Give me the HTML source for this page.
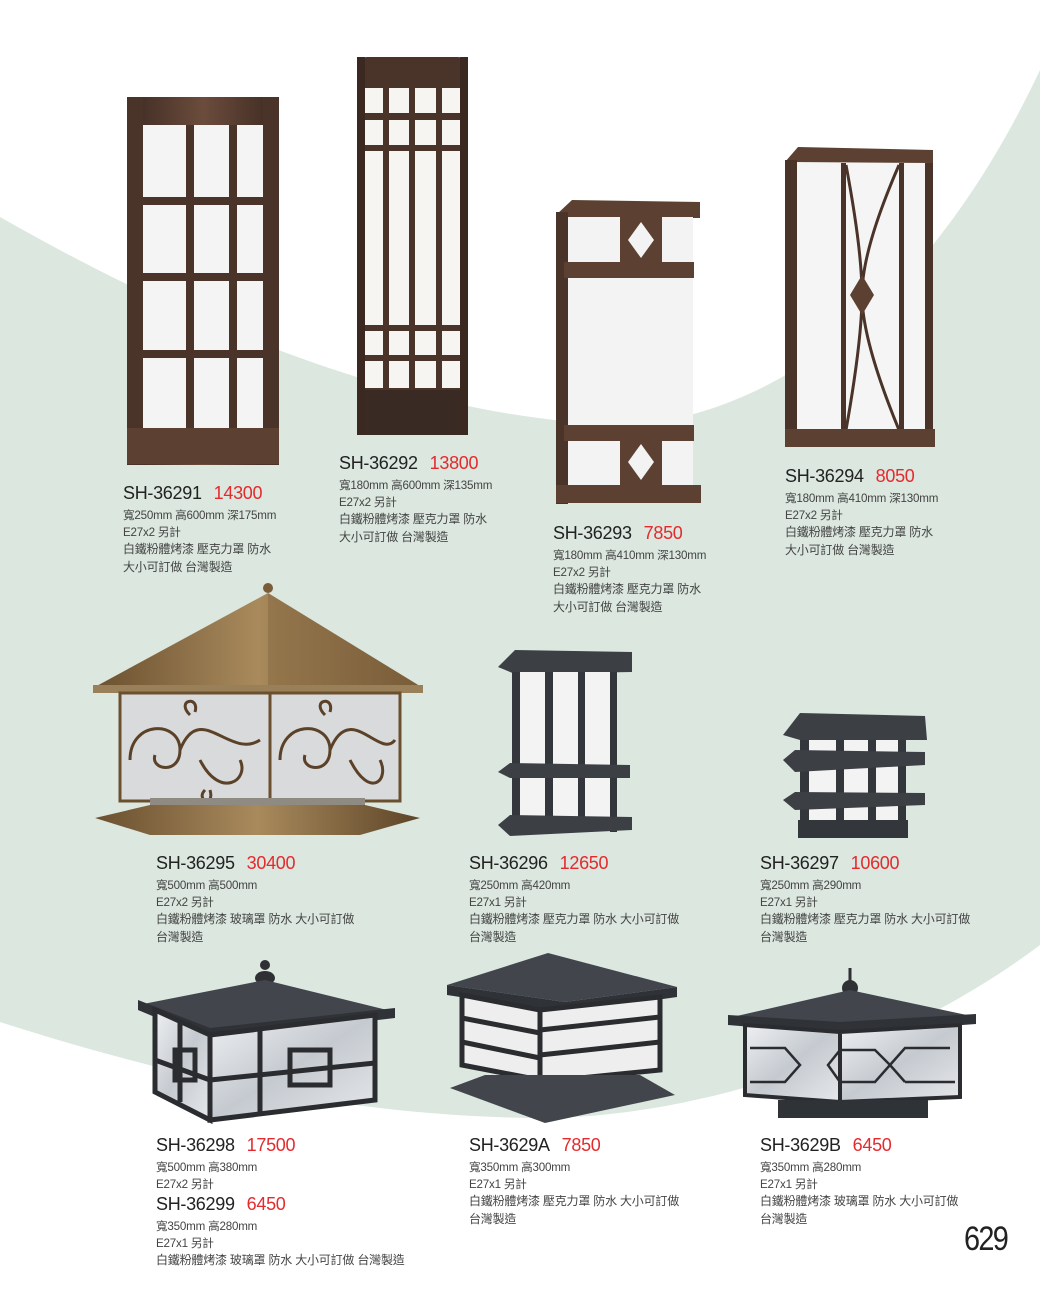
<!DOCTYPE html>
<html><head><meta charset="utf-8">
<style>
html,body{margin:0;padding:0;}
body{width:1040px;height:1300px;position:relative;overflow:hidden;background:#fff;font-family:"Liberation Sans","Noto Sans CJK TC",sans-serif;}
svg.bg{position:absolute;left:0;top:0;}
.t{position:absolute;color:#444;font-size:11.6px;line-height:16.5px;white-space:nowrap;letter-spacing:-0.2px;}
.t b{display:block;font-weight:normal;font-size:18px;line-height:22px;color:#222;letter-spacing:-0.3px;margin-bottom:4px;}
.t b i{font-style:normal;color:#e52a2e;margin-left:12px;}
.t .c{font-size:12px;}
.pg{position:absolute;left:964px;top:1220px;font-size:34px;color:#222;letter-spacing:-2px;transform:scaleX(0.85);transform-origin:left;}
</style></head><body>
<svg class="bg" width="1040" height="1300" viewBox="0 0 1040 1300">
<defs>
<linearGradient id="br" x1="0" x2="1"><stop offset="0" stop-color="#3e2a22"/><stop offset=".5" stop-color="#6b4c3c"/><stop offset="1" stop-color="#3e2a22"/></linearGradient>
<linearGradient id="gold" x1="0" x2="1"><stop offset="0" stop-color="#6b5030"/><stop offset=".5" stop-color="#a88a5c"/><stop offset="1" stop-color="#5e4528"/></linearGradient>
<linearGradient id="gl" x1="0" y1="0" x2="1" y2="1"><stop offset="0" stop-color="#eef0f2"/><stop offset=".5" stop-color="#c5cad0"/><stop offset="1" stop-color="#e6e8ea"/></linearGradient>
</defs>
<rect width="1040" height="1300" fill="#fff"/>
<path d="M0 217 C180 320 420 425 640 425 C830 400 960 240 1040 70 V945 C900 1050 700 1120 530 1118 C330 1115 150 1070 0 1022Z" fill="#dbe7df"/>

<!-- Lamp 1 -->
<rect x="127" y="97" width="152" height="368" rx="6" fill="url(#br)"/>
<rect x="143" y="125" width="122" height="305" fill="#f4f4f4"/>
<rect x="186" y="125" width="8" height="305" fill="#4a3328"/>
<rect x="229" y="125" width="8" height="305" fill="#4a3328"/>
<rect x="140" y="197" width="128" height="8" fill="#4a3328"/>
<rect x="140" y="273" width="128" height="8" fill="#4a3328"/>
<rect x="140" y="350" width="128" height="8" fill="#4a3328"/>
<rect x="127" y="97" width="16" height="368" fill="#4a3328"/>
<rect x="263" y="97" width="16" height="368" fill="#4a3328"/>
<rect x="127" y="428" width="152" height="36" fill="#5c4132"/>
<!-- Lamp 2 -->
<rect x="357" y="57" width="111" height="378" rx="10" fill="#4a3328"/>
<rect x="365" y="88" width="95" height="300" fill="#f6f5f2"/>
<rect x="383" y="88" width="6" height="300" fill="#4a3328"/>
<rect x="409" y="88" width="6" height="300" fill="#4a3328"/>
<rect x="436" y="88" width="6" height="300" fill="#4a3328"/>
<rect x="362" y="113" width="101" height="7" fill="#4a3328"/>
<rect x="362" y="145" width="101" height="6" fill="#4a3328"/>
<rect x="362" y="325" width="101" height="6" fill="#4a3328"/>
<rect x="362" y="355" width="101" height="6" fill="#4a3328"/>
<rect x="357" y="57" width="8" height="378" fill="#3b2820"/>
<rect x="460" y="57" width="8" height="378" fill="#3b2820"/>
<rect x="365" y="390" width="95" height="45" fill="#3a2a24"/>
<!-- Lamp 3 -->
<polygon points="556,215 572,200 700,202 700,218 572,218" fill="#5c4132"/>
<rect x="556" y="212" width="12" height="292" fill="#4a3328"/>
<rect x="568" y="217" width="125" height="270" fill="#f3f3f3"/>
<rect x="620" y="217" width="42" height="50" fill="#5c4132"/>
<polygon points="641,222 654,240 641,258 628,240" fill="#f3f3f3"/>
<rect x="564" y="262" width="130" height="16" fill="#5c4132"/>
<rect x="564" y="425" width="130" height="16" fill="#5c4132"/>
<rect x="620" y="440" width="42" height="46" fill="#5c4132"/>
<polygon points="641,444 654,462 641,480 628,462" fill="#f3f3f3"/>
<rect x="556" y="485" width="145" height="18" fill="#5c4132"/>
<!-- Lamp 4 -->
<polygon points="785,162 798,147 933,150 933,163" fill="#5c4132"/>
<rect x="785" y="160" width="12" height="287" fill="#4a3328"/>
<rect x="797" y="163" width="130" height="268" fill="#f5f5f5"/>
<rect x="841" y="163" width="5" height="268" fill="#4a3328"/>
<rect x="899" y="163" width="5" height="268" fill="#4a3328"/>
<path d="M846 165 Q862 250 862 295 Q862 340 846 430 M899 165 Q862 250 862 295 Q862 340 899 430" stroke="#4a3328" stroke-width="3" fill="none"/>
<polygon points="862,275 874,295 862,315 850,295" fill="#5c4132"/>
<rect x="925" y="163" width="8" height="268" fill="#4a3328"/>
<rect x="785" y="429" width="150" height="18" fill="#5c4132"/>
<!-- Lamp 5 -->
<circle cx="268" cy="588" r="5" fill="#7a5c38"/>
<polygon points="268,593 93,688 423,688" fill="url(#gold)"/>
<polygon points="268,593 268,688 423,688" fill="#8a6c44" opacity=".6"/>
<rect x="93" y="685" width="330" height="8" fill="#9a8058"/>
<rect x="120" y="693" width="280" height="108" fill="#d9dadb" stroke="#6b5030" stroke-width="3"/>
<line x1="270" y1="693" x2="270" y2="801" stroke="#6b5030" stroke-width="3"/>
<g stroke="#5a4128" stroke-width="3" fill="none">
<path d="M130 760 C130 720 180 720 180 750 C180 775 150 770 155 755 M180 750 C200 700 230 760 260 740 M200 760 C220 800 250 780 240 760"/>
<path d="M280 760 C280 720 330 720 330 750 C330 775 300 770 305 755 M330 750 C350 700 380 760 395 740 M350 760 C370 800 390 780 380 760"/>
<path d="M190 715 C175 700 200 695 195 712 M325 715 C310 700 335 695 330 712 M205 790 C195 800 215 808 210 790"/>
</g>
<rect x="150" y="798" width="215" height="14" fill="#8f8a82"/>
<polygon points="95,818 150,805 365,805 420,818 360,835 150,835" fill="url(#gold)"/>
<!-- Lamp 6 -->
<polygon points="498,667 515,650 632,652 632,672 515,674" fill="#3c3f44"/>
<rect x="515" y="672" width="98" height="145" fill="#f3f3f3"/>
<rect x="512" y="672" width="8" height="160" fill="#33363b"/>
<rect x="545" y="672" width="8" height="160" fill="#33363b"/>
<rect x="578" y="672" width="7" height="160" fill="#33363b"/>
<rect x="610" y="672" width="7" height="160" fill="#33363b"/>
<polygon points="498,772 510,763 630,765 630,778 510,778" fill="#3c3f44"/>
<polygon points="498,825 510,815 632,817 632,830 510,836" fill="#3c3f44"/>
<!-- Lamp 7 -->
<polygon points="783,735 800,713 925,716 927,740 800,740" fill="#3c3f44"/>
<rect x="800" y="740" width="103" height="85" fill="#f3f3f3"/>
<rect x="800" y="740" width="9" height="95" fill="#33363b"/>
<rect x="836" y="740" width="8" height="95" fill="#33363b"/>
<rect x="868" y="740" width="8" height="95" fill="#33363b"/>
<rect x="898" y="740" width="8" height="95" fill="#33363b"/>
<polygon points="783,760 795,750 925,752 925,765 795,772" fill="#3c3f44"/>
<polygon points="783,800 795,792 925,793 925,805 795,810" fill="#3c3f44"/>
<rect x="798" y="820" width="110" height="18" fill="#33363b"/>
<!-- Lamp 8 -->
<circle cx="265" cy="965" r="5" fill="#2e3034"/>
<ellipse cx="265" cy="978" rx="10" ry="7" fill="#2e3034"/>
<polygon points="265,980 138,1005 210,1030 395,1012" fill="#42464c"/>
<polygon points="138,1000 210,1028 395,1008 395,1018 210,1040 138,1010" fill="#2f3237"/>
<polygon points="155,1010 210,1035 210,1120 155,1092" fill="url(#gl)" stroke="#2a2c30" stroke-width="5"/>
<polygon points="210,1035 375,1015 375,1100 210,1120" fill="url(#gl)" stroke="#2a2c30" stroke-width="5"/>
<g stroke="#2a2c30" stroke-width="5" fill="none">
<line x1="210" y1="1080" x2="375" y2="1063"/><line x1="155" y1="1060" x2="210" y2="1080"/>
<rect x="290" y="1050" width="40" height="35"/><rect x="175" y="1050" width="20" height="30"/>
<line x1="260" y1="1028" x2="260" y2="1115"/><line x1="180" y1="1020" x2="180" y2="1102"/>
</g>
<!-- Lamp 9 -->
<polygon points="548,953 447,985 565,1002 677,987" fill="#42464c"/>
<polygon points="447,985 565,1002 677,987 677,997 565,1013 447,995" fill="#2f3237"/>
<polygon points="462,995 540,1010 540,1080 462,1065" fill="#eeeeee" stroke="#2a2c30" stroke-width="5"/>
<polygon points="540,1010 660,997 660,1070 540,1082" fill="#eeeeee" stroke="#2a2c30" stroke-width="5"/>
<g stroke="#2a2c30" stroke-width="5"><line x1="462" y1="1018" x2="540" y2="1033"/><line x1="462" y1="1042" x2="540" y2="1058"/><line x1="540" y1="1030" x2="660" y2="1017"/><line x1="540" y1="1055" x2="660" y2="1042"/></g>
<rect x="490" y="1078" width="150" height="22" fill="#2f3237"/>
<polygon points="450,1088 485,1075 640,1075 675,1095 545,1123" fill="#42464c"/>
<!-- Lamp 10 -->
<line x1="850" y1="968" x2="850" y2="985" stroke="#2e3034" stroke-width="3"/>
<ellipse cx="850" cy="988" rx="8" ry="8" fill="#2e3034"/>
<polygon points="850,990 728,1018 840,1025 976,1017" fill="#42464c"/>
<polygon points="728,1015 840,1022 976,1014 976,1024 840,1034 728,1025" fill="#2f3237"/>
<polygon points="745,1025 840,1032 840,1102 745,1095" fill="url(#gl)" stroke="#2a2c30" stroke-width="4"/>
<polygon points="840,1032 960,1025 960,1097 840,1102" fill="url(#gl)" stroke="#2a2c30" stroke-width="4"/>
<g stroke="#2a2c30" stroke-width="2.5" fill="none"><path d="M750 1048 H785 L800 1065 L785 1082 H750 M840 1050 L828 1065 L840 1082 M840 1050 H875 L890 1065 L875 1082 H840 M890 1065 L905 1048 H950 M905 1082 L890 1065 M905 1082 H955"/></g>
<rect x="778" y="1100" width="150" height="18" fill="#2f3237"/>
</svg>

<div class="t" style="left:123px;top:482px"><b>SH-36291<i>14300</i></b>寬250mm 高600mm 深175mm<br>E27x2 另計<br><span class="c">白鐵粉體烤漆 壓克力罩 防水</span><br><span class="c">大小可訂做 台灣製造</span></div>
<div class="t" style="left:339px;top:452px"><b>SH-36292<i>13800</i></b>寬180mm 高600mm 深135mm<br>E27x2 另計<br><span class="c">白鐵粉體烤漆 壓克力罩 防水</span><br><span class="c">大小可訂做 台灣製造</span></div>
<div class="t" style="left:553px;top:522px"><b>SH-36293<i>7850</i></b>寬180mm 高410mm 深130mm<br>E27x2 另計<br><span class="c">白鐵粉體烤漆 壓克力罩 防水</span><br><span class="c">大小可訂做 台灣製造</span></div>
<div class="t" style="left:785px;top:465px"><b>SH-36294<i>8050</i></b>寬180mm 高410mm 深130mm<br>E27x2 另計<br><span class="c">白鐵粉體烤漆 壓克力罩 防水</span><br><span class="c">大小可訂做 台灣製造</span></div>

<div class="t" style="left:156px;top:852px"><b>SH-36295<i>30400</i></b>寬500mm 高500mm<br>E27x2 另計<br><span class="c">白鐵粉體烤漆 玻璃罩 防水 大小可訂做</span><br><span class="c">台灣製造</span></div>
<div class="t" style="left:469px;top:852px"><b>SH-36296<i>12650</i></b>寬250mm 高420mm<br>E27x1 另計<br><span class="c">白鐵粉體烤漆 壓克力罩 防水 大小可訂做</span><br><span class="c">台灣製造</span></div>
<div class="t" style="left:760px;top:852px"><b>SH-36297<i>10600</i></b>寬250mm 高290mm<br>E27x1 另計<br><span class="c">白鐵粉體烤漆 壓克力罩 防水 大小可訂做</span><br><span class="c">台灣製造</span></div>

<div class="t" style="left:156px;top:1134px"><b>SH-36298<i>17500</i></b>寬500mm 高380mm<br>E27x2 另計<b style="margin-top:0">SH-36299<i>6450</i></b>寬350mm 高280mm<br>E27x1 另計<br><span class="c">白鐵粉體烤漆 玻璃罩 防水 大小可訂做 台灣製造</span></div>
<div class="t" style="left:469px;top:1134px"><b>SH-3629A<i>7850</i></b>寬350mm 高300mm<br>E27x1 另計<br><span class="c">白鐵粉體烤漆 壓克力罩 防水 大小可訂做</span><br><span class="c">台灣製造</span></div>
<div class="t" style="left:760px;top:1134px"><b>SH-3629B<i>6450</i></b>寬350mm 高280mm<br>E27x1 另計<br><span class="c">白鐵粉體烤漆 玻璃罩 防水 大小可訂做</span><br><span class="c">台灣製造</span></div>

<div class="pg">629</div>
</body></html>
